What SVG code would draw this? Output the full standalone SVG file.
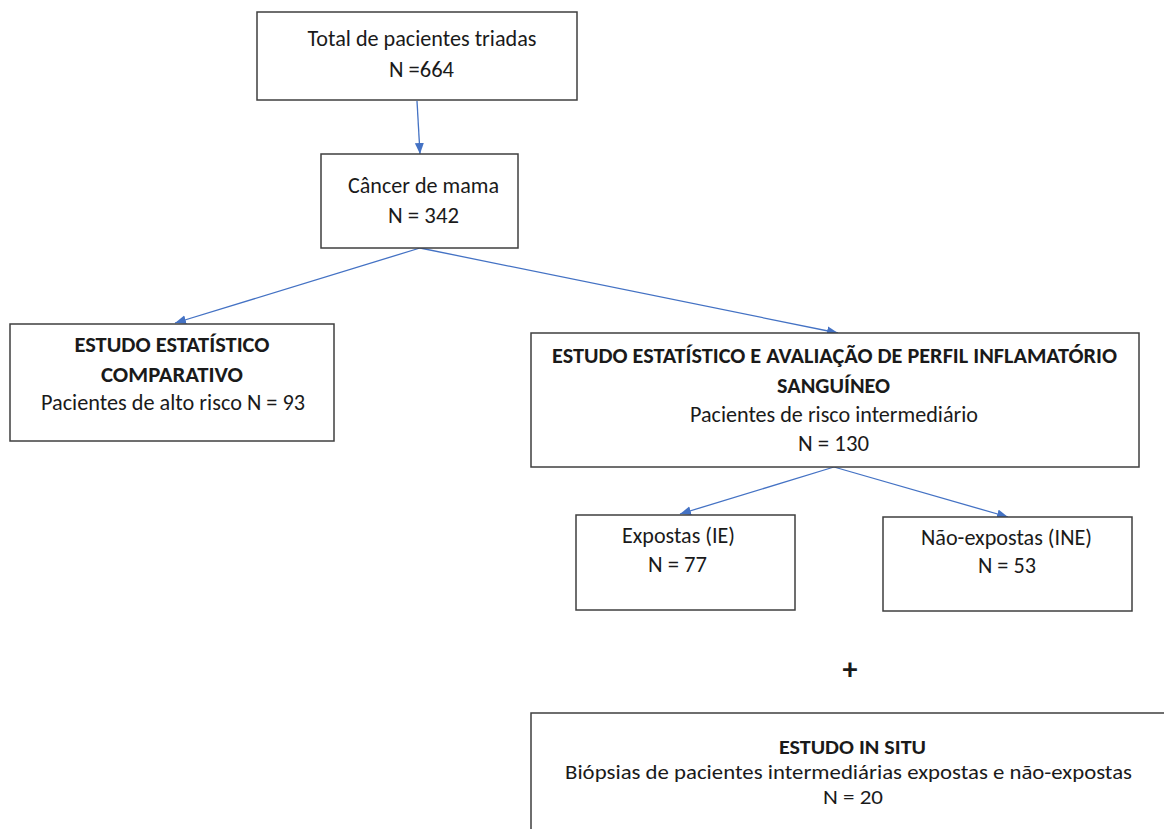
<svg xmlns="http://www.w3.org/2000/svg" width="1164" height="829" viewBox="0 0 1164 829">
<style>
.box{fill:#fff;stroke:#3f3f3f;stroke-width:1.5}
.t{font-family:Carlito,Lato,"Liberation Sans",sans-serif;font-size:22px;fill:#1a1a1a;text-anchor:middle}
.s{font-size:20px}
.b{font-weight:bold}
.c{stroke:#4472C4;stroke-width:1.3;fill:none;marker-end:url(#ah)}
</style>
<defs>
<marker id="ah" markerUnits="userSpaceOnUse" markerWidth="12" markerHeight="10" refX="11" refY="4.5" orient="auto">
<path d="M0,0 L11,4.5 L0,9 z" fill="#4472C4"/>
</marker>
</defs>
<rect width="1164" height="829" fill="#fff"/>
<g id="connectors">
<line class="c" x1="417" y1="101" x2="420" y2="154"/>
<line class="c" x1="420" y1="248" x2="175" y2="323"/>
<line class="c" x1="420" y1="248" x2="838" y2="333"/>
<line class="c" x1="834" y1="467" x2="680" y2="514"/>
<line class="c" x1="834" y1="467" x2="1008" y2="517"/>
</g>
<g id="n1">
<rect class="box" x="257" y="12" width="320" height="88"/>
<text class="t" x="422" y="46" textLength="229" lengthAdjust="spacingAndGlyphs">Total de pacientes triadas</text>
<text class="t" x="421.5" y="77" textLength="65" lengthAdjust="spacingAndGlyphs">N =664</text>
</g>
<g id="n2">
<rect class="box" x="321" y="154" width="197" height="94"/>
<text class="t" x="423.5" y="193" textLength="151" lengthAdjust="spacingAndGlyphs">Câncer de mama</text>
<text class="t" x="423.5" y="223" textLength="71" lengthAdjust="spacingAndGlyphs">N = 342</text>
</g>
<g id="n3">
<rect class="box" x="10" y="324" width="324" height="117"/>
<text class="t b" x="172" y="352" textLength="195" lengthAdjust="spacingAndGlyphs">ESTUDO ESTATÍSTICO</text>
<text class="t b" x="172" y="382" textLength="142" lengthAdjust="spacingAndGlyphs">COMPARATIVO</text>
<text class="t" x="173" y="410" textLength="264" lengthAdjust="spacingAndGlyphs">Pacientes de alto risco N = 93</text>
</g>
<g id="n4">
<rect class="box" x="531" y="333" width="608" height="134"/>
<text class="t b" x="834.5" y="363" textLength="565" lengthAdjust="spacingAndGlyphs">ESTUDO ESTATÍSTICO E AVALIAÇÃO DE PERFIL INFLAMATÓRIO</text>
<text class="t b" x="833.5" y="393" textLength="113" lengthAdjust="spacingAndGlyphs">SANGUÍNEO</text>
<text class="t" x="834" y="422" textLength="288" lengthAdjust="spacingAndGlyphs">Pacientes de risco intermediário</text>
<text class="t" x="833.5" y="451" textLength="71" lengthAdjust="spacingAndGlyphs">N = 130</text>
</g>
<g id="n5">
<rect class="box" x="576" y="515" width="219" height="95"/>
<text class="t" x="678.5" y="543" textLength="113" lengthAdjust="spacingAndGlyphs">Expostas (IE)</text>
<text class="t" x="677.5" y="572" textLength="59" lengthAdjust="spacingAndGlyphs">N = 77</text>
</g>
<g id="n6">
<rect class="box" x="883" y="517" width="249" height="94"/>
<text class="t" x="1006.5" y="545" textLength="171" lengthAdjust="spacingAndGlyphs">Não-expostas (INE)</text>
<text class="t" x="1007" y="573" textLength="58" lengthAdjust="spacingAndGlyphs">N = 53</text>
</g>
<g id="plus">
<text class="t b" x="850" y="679" style="font-size:30px">+</text>
</g>
<g id="n7">
<rect class="box" x="531" y="713" width="640" height="130"/>
<text class="t b s" x="852.5" y="754" textLength="147" lengthAdjust="spacingAndGlyphs">ESTUDO IN SITU</text>
<text class="t s" x="848.5" y="779" textLength="567" lengthAdjust="spacingAndGlyphs">Biópsias de pacientes intermediárias expostas e não-expostas</text>
<text class="t s" x="853" y="804" textLength="60" lengthAdjust="spacingAndGlyphs">N = 20</text>
</g>
</svg>
